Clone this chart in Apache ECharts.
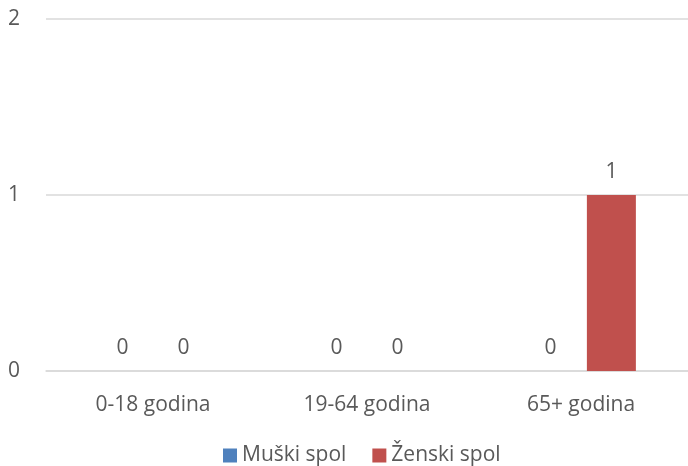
<!DOCTYPE html>
<html>
<head>
<meta charset="utf-8">
<script src="https://cdn.jsdelivr.net/npm/echarts@6/dist/echarts.min.js"></script>
<style>html,body{margin:0;padding:0;background:#fff}#c{width:688px;height:466px}</style>
</head>
<body>
<div id="c"></div>
<script>
var categories = ['0-18 godina', '19-64 godina', '65+ godina'];
var seriesNames = ['Muški spol', 'Ženski spol'];
var muski = [0, 0, 0];
var zenski = [0, 0, 1];
var yTicks = [0, 1, 2];

var textColor = '#595959';
var font = 'Open Sans';
var fs = 21;
var chart = echarts.init(document.getElementById('c'));
chart.setOption({
  animation: false,
  textStyle: { fontFamily: font },
  grid: { left: 46, right: 0, top: 19, bottom: 95, containLabel: false },
  legend: {
    top: 440,
    left: 218,
    itemWidth: 14,
    itemHeight: 14,
    itemGap: 26,
    icon: 'rect',
    textStyle: { color: textColor, fontSize: fs, fontFamily: font },
    data: seriesNames
  },
  xAxis: {
    type: 'category',
    data: categories,
    axisTick: { show: false },
    axisLine: { lineStyle: { color: '#d9d9d9', width: 1.5 } },
    axisLabel: { color: textColor, fontSize: fs, margin: 24, fontFamily: font }
  },
  yAxis: {
    type: 'value',
    min: yTicks[0],
    max: yTicks[yTicks.length - 1],
    interval: 1,
    axisLine: { show: false },
    axisTick: { show: false },
    splitLine: { lineStyle: { color: '#d9d9d9', width: 1.5 } },
    axisLabel: { color: textColor, fontSize: fs, margin: 26, fontFamily: font }
  },
  series: [
    {
      name: seriesNames[0],
      type: 'bar',
      data: muski,
      barWidth: 49,
      barGap: '24%',
      itemStyle: { color: '#4F81BD' },
      label: { show: true, position: 'top', distance: 12, color: textColor, fontSize: fs, fontFamily: font }
    },
    {
      name: seriesNames[1],
      type: 'bar',
      data: zenski,
      barWidth: 49,
      barGap: '24%',
      itemStyle: { color: '#C0504D' },
      label: { show: true, position: 'top', distance: 12, color: textColor, fontSize: fs, fontFamily: font }
    }
  ]
});
</script>
</body>
</html>
